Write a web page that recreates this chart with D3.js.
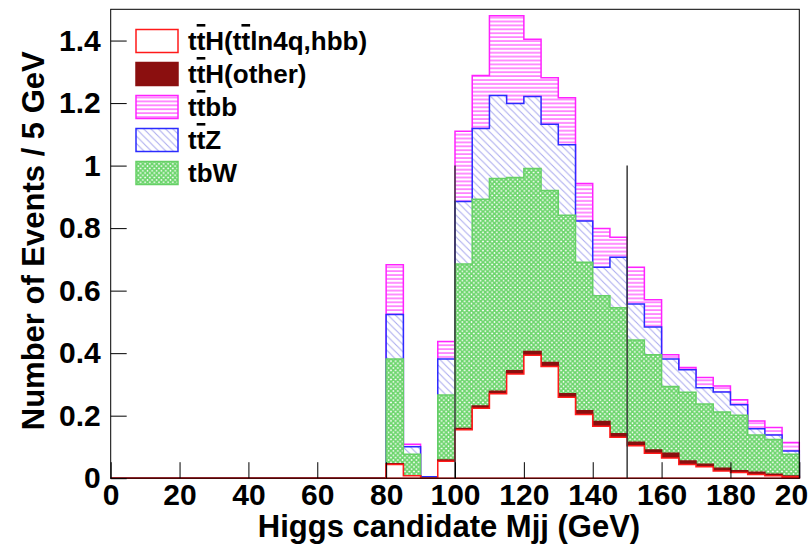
<!DOCTYPE html>
<html>
<head>
<meta charset="utf-8">
<script src="https://cdn.jsdelivr.net/npm/d3@7"></script>
<style>
  body { margin: 0; background: #fff; }
  svg text { font-family: "Liberation Sans", Arial, sans-serif; font-weight: bold; }
</style>
</head>
<body>
<svg width="808" height="550"></svg>
<script>
// bin edges of Mjj, 5 GeV bins
var binEdges = d3.range(0, 205, 5);

// per-bin yields (not stacked), 40 bins from 0 to 200 GeV
var ttHsig = [0,0,0,0,0,0,0,0,0,0,0,0,0,0,0,0,
  0.044,0.008,0,0.054,0.155,0.224,0.270,0.333,0.393,0.357,0.259,0.204,0.166,0.131,
  0.104,0.080,0.065,0.044,0.037,0.023,0.018,0.012,0.008,0.005];
var ttHother = [0,0,0,0,0,0,0,0,0,0,0,0,0,0,0,0,
  0.002,0,0,0.004,0.004,0.007,0.008,0.011,0.012,0.013,0.011,0.012,0.015,0.011,
  0.011,0.010,0.015,0.011,0.008,0.009,0.006,0.007,0.005,0.002];
var tbW = [0,0,0,0,0,0,0,0,0,0,0,0,0,0,0,0,
  0.335,0.069,0,0.208,0.526,0.661,0.681,0.618,0.586,0.550,0.571,0.475,0.403,0.403,
  0.327,0.305,0.213,0.220,0.192,0.180,0.177,0.119,0.111,0.070];
var ttZ = [0,0,0,0,0,0,0,0,0,0,0,0,0,0,0,0,
  0.143,0.024,0.005,0.115,0.200,0.227,0.265,0.237,0.230,0.212,0.226,0.132,0.091,0.162,
  0.115,0.089,0.088,0.072,0.052,0.064,0.034,0.020,0.014,0.010];
var ttbb = [0,0,0,0,0,0,0,0,0,0,0,0,0,0,0,0,
  0.159,0.008,0,0.056,0.225,0.169,0.255,0.280,0.183,0.149,0.150,0.120,0.124,0.064,
  0.118,0.087,0.014,0.007,0.033,0.019,0.016,0.025,0.024,0.027];

var keys = ['sig', 'other', 'tbw', 'ttz', 'ttbb'];
// legend labels: [text, overlined?] pieces
var legendLabels = [
  [['t',0],['t',1],['H(',0],['t',0],['t',1],['ln4q,hbb)',0]],
  [['t',0],['t',1],['H(other)',0]],
  [['t',0],['t',1],['bb',0]],
  [['t',0],['t',1],['Z',0]],
  [['tbW',0]]
];
var legendOrder = ['sig', 'other', 'ttbb', 'ttz', 'tbw'];
var xTicks = [0, 20, 40, 60, 80, 100, 120, 140, 160, 180, 200];
var yTicks = [0, 0.2, 0.4, 0.6, 0.8, 1, 1.2, 1.4];
var cutValues = [100, 150];

var styles = {
  sig:   {fill: '#ffffff', stroke: '#ff1a1a'},
  other: {fill: '#8b0f0f', stroke: '#8b0f0f'},
  tbw:   {fill: 'url(#pGreen)', stroke: '#66d066'},
  ttz:   {fill: 'url(#pBlue)', stroke: '#2b2bff'},
  ttbb:  {fill: 'url(#pMag)', stroke: '#ff22ff'}
};

var svg = d3.select('svg');
var x = d3.scaleLinear().domain([0, 200]).range([110.7, 799.3]);
var y = d3.scaleLinear().domain([0, 1.5]).range([478.2, 9.3]);

// fill patterns (ROOT style hatches)
var defs = svg.append('defs');
var pm = defs.append('pattern').attr('id', 'pMag').attr('patternUnits', 'userSpaceOnUse')
  .attr('width', 8).attr('height', 3.9);
pm.append('rect').attr('width', 8).attr('height', 3.9).attr('fill', '#fff');
pm.append('line').attr('x1', 0).attr('x2', 8).attr('y1', 2).attr('y2', 2)
  .attr('stroke', '#ff33ff').attr('stroke-width', 1.1);

var pb = defs.append('pattern').attr('id', 'pBlue').attr('patternUnits', 'userSpaceOnUse')
  .attr('width', 7.3).attr('height', 7.3);
pb.append('rect').attr('width', 7.3).attr('height', 7.3).attr('fill', '#fff');
pb.append('path').attr('d', 'M-1,-1 L8.3,8.3 M-1,6.3 L1,8.3 M6.3,-1 L8.3,1')
  .attr('stroke', '#a9a9ee').attr('stroke-width', 1);

// green crosshatch: mesh with small white diamonds
var pg = defs.append('pattern').attr('id', 'pGreen').attr('patternUnits', 'userSpaceOnUse')
  .attr('width', 4.6).attr('height', 4.6);
pg.append('rect').attr('width', 4.6).attr('height', 4.6).attr('fill', '#fff');
pg.append('path').attr('d', 'M-1,-1 L5.6,5.6 M-1,5.6 L5.6,-1')
  .attr('stroke', '#6cd56c').attr('stroke-width', 1.7);

var rows = binEdges.slice(0, -1).map(function(b, i) {
  return {sig: ttHsig[i], other: ttHother[i], tbw: tbW[i], ttz: ttZ[i], ttbb: ttbb[i]};
});
var stacked = d3.stack().keys(keys)(rows);

var area = d3.area()
  .x(function(p) { return x(p.e); })
  .y0(y(0))
  .y1(function(p) { return y(p.v); });

// draw cumulative histograms, largest first
stacked.slice().reverse().forEach(function(layer) {
  var pts = [];
  layer.forEach(function(d, i) {
    pts.push({e: binEdges[i], v: d[1]});
    pts.push({e: binEdges[i + 1], v: d[1]});
  });
  svg.append('path')
    .attr('d', area(pts))
    .attr('fill', styles[layer.key].fill)
    .attr('stroke', styles[layer.key].stroke)
    .attr('stroke-width', 1.5);
});

// cut lines
svg.selectAll('.cut').data(cutValues).enter().append('line')
  .attr('class', 'cut')
  .attr('x1', function(d) { return x(d); }).attr('x2', function(d) { return x(d); })
  .attr('y1', y(0)).attr('y2', y(1))
  .attr('stroke', '#3a3a3a').attr('stroke-width', 1.5);

// frame
svg.append('rect')
  .attr('x', x(0)).attr('y', y(1.5))
  .attr('width', x(200) - x(0)).attr('height', y(0) - y(1.5))
  .attr('fill', 'none').attr('stroke', '#000').attr('stroke-width', 1);

// axes, ticks inside the frame
var gx = svg.append('g').attr('transform', 'translate(0,' + y(0) + ')');
gx.call(d3.axisBottom(x).tickValues(d3.range(0, 201, 5)).tickSizeInner(-8).tickSizeOuter(0).tickFormat(''));
gx.call(d3.axisBottom(x).tickValues(xTicks).tickSizeInner(-16).tickSizeOuter(0).tickPadding(5)
  .tickFormat(d3.format('d')));
gx.select('.domain').remove();
gx.selectAll('text').attr('font-size', 30).attr('fill', '#000')
  .style('font-family', '"Liberation Sans Narrow", "Liberation Sans", Arial, sans-serif');

var gy = svg.append('g').attr('transform', 'translate(' + x(0) + ',0)');
gy.call(d3.axisLeft(y).tickValues(d3.range(0, 1.51, 0.05)).tickSizeInner(-9).tickSizeOuter(0).tickFormat(''));
gy.call(d3.axisLeft(y).tickValues(yTicks).tickSizeInner(-16).tickSizeOuter(0).tickPadding(10)
  .tickFormat(d3.format('~g')));
gy.select('.domain').remove();
gy.selectAll('text').attr('font-size', 30).attr('fill', '#000')
  .style('font-family', '"Liberation Sans Narrow", "Liberation Sans", Arial, sans-serif');
svg.selectAll('.tick line').attr('stroke', '#000');

// axis titles
svg.append('text')
  .attr('x', (x(0) + x(200)) / 2 - 6).attr('y', 537)
  .attr('text-anchor', 'middle').attr('font-size', 31)
  .text('Higgs candidate Mjj (GeV)');
svg.append('text')
  .attr('transform', 'translate(44,' + ((y(0) + y(1.5)) / 2 - 3) + ') rotate(-90)')
  .attr('text-anchor', 'middle').attr('font-size', 31)
  .text('Number of Events / 5 GeV');

// legend
var leg = svg.append('g').attr('transform', 'translate(136,29.5)');
legendOrder.forEach(function(k, i) {
  var row = leg.append('g').attr('transform', 'translate(0,' + i * 33 + ')');
  row.append('rect').attr('width', 42).attr('height', 23)
    .attr('fill', styles[k].fill).attr('stroke', styles[k].stroke).attr('stroke-width', 1.5);
  var t = row.append('text').attr('x', 52).attr('y', 20.5).attr('font-size', 26);
  legendLabels[i].forEach(function(piece) {
    var s = t.append('tspan').text(piece[0]);
    if (piece[1]) s.style('text-decoration', 'overline');
  });
});
</script>
</body>
</html>
